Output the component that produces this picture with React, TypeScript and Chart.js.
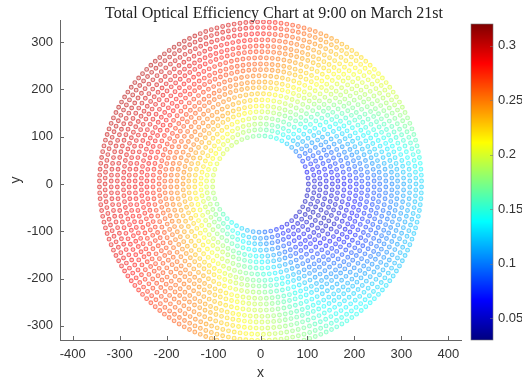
import { useEffect, useRef } from "react";
import { Chart, registerables } from "chart.js";
Chart.register(...registerables);

// Heliostat rings (radius in m, number of mirrors on each ring)
const ringRadii = [102, 115, 127, 140, 153, 165, 178, 191, 204, 216, 229, 242, 254, 267, 280, 292, 305, 318, 331, 343];
const ringCounts = [51, 58, 64, 70, 77, 83, 89, 96, 103, 109, 115, 122, 128, 134, 141, 147, 153, 160, 166, 172];

// Efficiency at sample azimuths (deg, from +x, counter-clockwise) and radii
const effAngles = [0, 30, 60, 90, 120, 150, 180, 210, 240, 270, 300, 330];
const effRadii = [105, 165, 240, 340];
const effR105 = [0.05, 0.08, 0.13, 0.165, 0.19, 0.205, 0.195, 0.17, 0.135, 0.10, 0.06, 0.045];
const effR165 = [0.06, 0.10, 0.17, 0.21, 0.24, 0.25, 0.245, 0.225, 0.195, 0.14, 0.08, 0.045];
const effR240 = [0.085, 0.145, 0.21, 0.255, 0.275, 0.285, 0.285, 0.27, 0.24, 0.185, 0.115, 0.075];
const effR340 = [0.125, 0.19, 0.235, 0.29, 0.305, 0.305, 0.295, 0.29, 0.26, 0.21, 0.15, 0.12];

const xTicks = [-400, -300, -200, -100, 0, 100, 200, 300, 400];
const yTicks = [-300, -200, -100, 0, 100, 200, 300];
const cbTicks = [0.05, 0.1, 0.15, 0.2, 0.25, 0.3];
const cbMin = 0.03;
const cbMax = 0.32;

const TITLE = "Total Optical Efficiency Chart at 9:00 on March 21st";

function clamp01(v: number) {
  return Math.max(0, Math.min(1, v));
}
function jet(t: number): [number, number, number] {
  const r = clamp01(1.5 - Math.abs(4 * t - 3));
  const g = clamp01(1.5 - Math.abs(4 * t - 2));
  const b = clamp01(1.5 - Math.abs(4 * t - 1));
  return [Math.round(r * 255), Math.round(g * 255), Math.round(b * 255)];
}

function effAt(r: number, deg: number) {
  const rows = [effR105, effR165, effR240, effR340];
  let i = 0;
  while (i < effRadii.length - 2 && r > effRadii[i + 1]) i++;
  const tr = clamp01((r - effRadii[i]) / (effRadii[i + 1] - effRadii[i]));
  const a = ((deg % 360) + 360) % 360;
  const step = 360 / effAngles.length;
  const j = Math.floor(a / step) % effAngles.length;
  const j2 = (j + 1) % effAngles.length;
  const ta = (a - effAngles[j]) / step;
  const v0 = rows[i][j] * (1 - ta) + rows[i][j2] * ta;
  const v1 = rows[i + 1][j] * (1 - ta) + rows[i + 1][j2] * ta;
  return v0 * (1 - tr) + v1 * tr;
}

const CB = { left: 471, right: 493, top: 24, bottom: 340 };

const overlay = {
  id: "overlay",
  afterDraw(chart: any) {
    const ctx = chart.ctx as CanvasRenderingContext2D;
    const area = chart.chartArea;
    const xs = chart.scales.x;
    const ys = chart.scales.y;
    ctx.save();
    // inward ticks
    ctx.strokeStyle = "#666";
    ctx.lineWidth = 1;
    ctx.beginPath();
    xTicks.forEach((v) => {
      const px = Math.round(xs.getPixelForValue(v)) + 0.5;
      ctx.moveTo(px, area.bottom);
      ctx.lineTo(px, area.bottom - 4);
    });
    yTicks.forEach((v) => {
      const py = Math.round(ys.getPixelForValue(v)) + 0.5;
      ctx.moveTo(area.left, py);
      ctx.lineTo(area.left + 4, py);
    });
    ctx.stroke();

    // title
    ctx.fillStyle = "#222";
    ctx.font = "16px 'Liberation Serif', 'Times New Roman', serif";
    ctx.textAlign = "center";
    ctx.textBaseline = "middle";
    ctx.fillText(TITLE, 274, 14);

    // axis titles
    ctx.fillStyle = "#333";
    ctx.font = "14px 'Liberation Sans', Arial, sans-serif";
    ctx.fillText("x", (area.left + area.right) / 2, 373);
    ctx.save();
    ctx.translate(16, (area.top + area.bottom) / 2);
    ctx.rotate(-Math.PI / 2);
    ctx.fillText("y", 0, 0);
    ctx.restore();

    // colorbar
    const h = CB.bottom - CB.top;
    for (let py = CB.top; py < CB.bottom; py++) {
      const t = (CB.bottom - py - 0.5) / h;
      const [r, g, b] = jet(t);
      ctx.fillStyle = `rgb(${r},${g},${b})`;
      ctx.fillRect(CB.left, py, CB.right - CB.left, 1);
    }
    ctx.strokeStyle = "#777";
    ctx.lineWidth = 0.6;
    ctx.strokeRect(CB.left, CB.top, CB.right - CB.left, h);
    ctx.fillStyle = "#333";
    ctx.font = "13px 'Liberation Sans', Arial, sans-serif";
    ctx.textAlign = "left";
    ctx.textBaseline = "middle";
    ctx.beginPath();
    cbTicks.forEach((v) => {
      const py = CB.bottom - ((v - cbMin) / (cbMax - cbMin)) * h;
      ctx.moveTo(CB.right, Math.round(py) + 0.5);
      ctx.lineTo(CB.right - 3, Math.round(py) + 0.5);
      ctx.fillText(String(v), 498, py);
    });
    ctx.stroke();
    ctx.restore();
  },
};

export default function App() {
  const ref = useRef<HTMLCanvasElement | null>(null);
  useEffect(() => {
    document.body.style.margin = "0";
    const pts: { x: number; y: number }[] = [];
    const border: string[] = [];
    const fill: string[] = [];
    ringRadii.forEach((r, k) => {
      const n = ringCounts[k];
      const step = 360 / n;
      const off = (k % 2) * step * 0.5;
      for (let m = 0; m < n; m++) {
        const deg = off + m * step;
        const rad = (deg * Math.PI) / 180;
        pts.push({ x: r * Math.cos(rad), y: r * Math.sin(rad) });
        const v = effAt(r, deg);
        const [cr, cg, cb] = jet(clamp01((v - cbMin) / (cbMax - cbMin)));
        border.push(`rgba(${cr},${cg},${cb},0.55)`);
        fill.push(`rgba(${cr},${cg},${cb},0.18)`);
      }
    });

    Chart.defaults.font.family = "'Liberation Sans', Arial, sans-serif";
    const chart = new Chart(ref.current as HTMLCanvasElement, {
      type: "scatter",
      data: {
        datasets: [
          {
            data: pts,
            pointRadius: 1.9,
            pointBorderWidth: 1.1,
            pointBorderColor: border,
            pointBackgroundColor: fill,
            clip: 0,
          } as any,
        ],
      },
      options: {
        animation: false,
        responsive: false,
        maintainAspectRatio: false,
        layout: { padding: { left: 0, right: 61, top: 20, bottom: 0 } },
        plugins: { legend: { display: false }, tooltip: { enabled: false }, title: { display: false } },
        scales: {
          x: {
            type: "linear",
            min: -427,
            max: 427,
            grid: { display: false, drawTicks: false },
            border: { display: true, color: "#666", width: 1 },
            ticks: { color: "#333", font: { size: 13 }, padding: 7, maxRotation: 0 },
            afterBuildTicks: (s: any) => {
              s.ticks = xTicks.map((v) => ({ value: v }));
            },
            afterFit: (s: any) => {
              s.height = 40;
            },
          },
          y: {
            type: "linear",
            min: -330,
            max: 347,
            grid: { display: false, drawTicks: false },
            border: { display: true, color: "#666", width: 1 },
            ticks: { color: "#333", font: { size: 13 }, padding: 7 },
            afterBuildTicks: (s: any) => {
              s.ticks = yTicks.map((v) => ({ value: v }));
            },
            afterFit: (s: any) => {
              s.width = 60;
            },
          },
        },
      },
      plugins: [overlay],
    });
    return () => chart.destroy();
  }, []);
  return (
    <div style={{ width: 522, height: 380, position: "relative" }}>
      <canvas ref={ref} width={522} height={380} style={{ display: "block" }} />
    </div>
  );
}
